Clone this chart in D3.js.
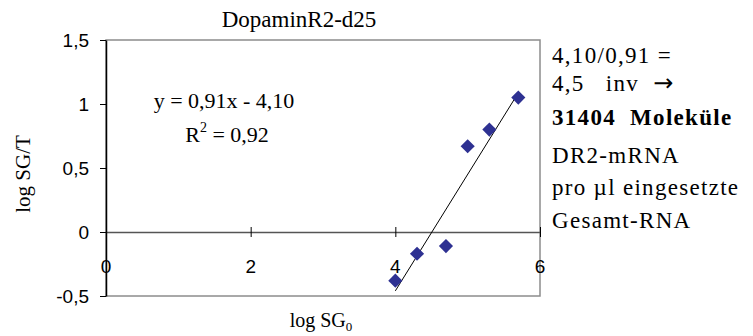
<!DOCTYPE html>
<meta charset="utf-8">
<style>
  body { margin: 0; background: #fff; }
  text { fill: #000; }
</style>
<svg width="753" height="336"></svg>
<script src="https://d3js.org/d3.v7.min.js"></script>
<script>

// data
var logSG0 = [4.0, 4.3, 4.7, 5.0, 5.3, 5.7];
var logSGT = [-0.38, -0.17, -0.11, 0.67, 0.80, 1.05];
var trend = [0.91, -4.10];   // slope, intercept
var xTicks = [0, 2, 4, 6];
var yTicks = [-0.5, 0, 0.5, 1, 1.5];
var noteLines = ["4,10/0,91 =", "4,5   inv  \u2192", "31404  Moleküle", "DR2-mRNA", "pro \u00b5l eingesetzte", "Gesamt-RNA"];

var svg = d3.select("svg");

var x = d3.scaleLinear().domain([0, 6]).range([106, 540]);
var y = d3.scaleLinear().domain([-0.5, 1.5]).range([296, 40]);

var serif = "'Liberation Serif', 'Times New Roman', serif",
    sans = "'Liberation Sans', Arial, sans-serif";

// plot frame
svg.append("rect")
    .attr("x", x(0)).attr("y", y(1.5))
    .attr("width", x(6) - x(0)).attr("height", y(-0.5) - y(1.5))
    .attr("fill", "none").attr("stroke", "#8c8c8c").attr("stroke-width", 1.5);

// x axis at y=0
var xAxis = svg.append("g")
    .attr("transform", "translate(0," + y(0) + ")")
    .call(d3.axisBottom(x).tickValues(xTicks).tickSize(0).tickFormat(""));
xAxis.select(".domain").attr("stroke", "#555").attr("stroke-width", 1.3);
xAxis.selectAll(".tick").append("line")
    .attr("y1", -5).attr("y2", 5).attr("stroke", "#000");
xAxis.selectAll(".tick").filter(function(d) { return d === 0; }).select("line").remove();

// x tick labels sit below the zero line
svg.append("g").selectAll("text")
    .data(xTicks)
    .enter().append("text")
    .attr("x", function(d) { return x(d); })
    .attr("y", 273)
    .attr("text-anchor", "middle")
    .style("font-family", sans).style("font-size", "19px")
    .text(function(d) { return d; });

// y axis
var yAxis = svg.append("g")
    .attr("transform", "translate(" + x(0) + ",0)")
    .call(d3.axisLeft(y).tickValues(yTicks).tickSize(6).tickSizeOuter(0).tickPadding(11)
        .tickFormat(function(d) { return String(d).replace(".", ","); }));
yAxis.select(".domain").attr("stroke", "#000").attr("stroke-width", 1.5);
yAxis.selectAll(".tick line").attr("stroke", "#000");
yAxis.selectAll(".tick text")
    .style("font-family", sans).style("font-size", "19px").attr("fill", "#000");

// trend line
svg.append("line")
    .attr("x1", x(logSG0[0])).attr("y1", y(trend[0] * logSG0[0] + trend[1]))
    .attr("x2", x(logSG0[logSG0.length - 1])).attr("y2", y(trend[0] * logSG0[logSG0.length - 1] + trend[1]))
    .attr("stroke", "#000").attr("stroke-width", 1);

// points
svg.append("g").selectAll("path")
    .data(logSG0)
    .enter().append("path")
    .attr("d", d3.symbol().type(d3.symbolSquare).size(100))
    .attr("transform", function(d, i) { return "translate(" + x(d) + "," + y(logSGT[i]) + ") rotate(45)"; })
    .attr("fill", "#2e3192");

// title
svg.append("text")
    .attr("x", 299).attr("y", 27)
    .attr("text-anchor", "middle")
    .style("font-family", serif).style("font-size", "23px")
    .text("DopaminR2-d25");

// axis titles
svg.append("text")
    .attr("transform", "translate(30,174) rotate(-90)")
    .attr("text-anchor", "middle")
    .style("font-family", serif).style("font-size", "21px")
    .text("log SG/T");

var xl = svg.append("text")
    .attr("x", 321).attr("y", 327)
    .attr("text-anchor", "middle")
    .style("font-family", serif).style("font-size", "20px");
xl.append("tspan").text("log SG");
xl.append("tspan").attr("dy", 4).style("font-size", "13px").text("0");

// equation
svg.append("text")
    .attr("x", 224).attr("y", 108)
    .attr("text-anchor", "middle")
    .style("font-family", serif).style("font-size", "22px")
    .text("y = 0,91x - 4,10");
var r2 = svg.append("text")
    .attr("x", 227).attr("y", 142)
    .attr("text-anchor", "middle")
    .style("font-family", serif).style("font-size", "22px");
r2.append("tspan").text("R");
r2.append("tspan").attr("dy", -10).style("font-size", "14px").text("2");
r2.append("tspan").attr("dy", 10).text(" = 0,92");

// note on the right
var baselines = [63, 91, 125, 163, 195, 228];
var notes = svg.append("g").selectAll("text")
    .data(noteLines)
    .enter().append("text")
    .attr("x", 552)
    .attr("y", function(d, i) { return baselines[i]; })
    .style("font-family", serif).style("font-size", "23px")
    .style("letter-spacing", "1.3px")
    .style("font-weight", function(d, i) { return i === 2 ? "bold" : "normal"; })
    .style("white-space", "pre");

// arrow in the second line is drawn with a wider glyph
notes.each(function(d) {
  var t = d3.select(this);
  var k = d.indexOf("\u2192");
  if (k < 0) { t.text(d); return; }
  t.append("tspan").text(d.slice(0, k));
  t.append("tspan").style("font-family", "'DejaVu Sans', sans-serif").style("font-size", "24px")
      .style("letter-spacing", "0px").text("\u2192");
});

</script>
